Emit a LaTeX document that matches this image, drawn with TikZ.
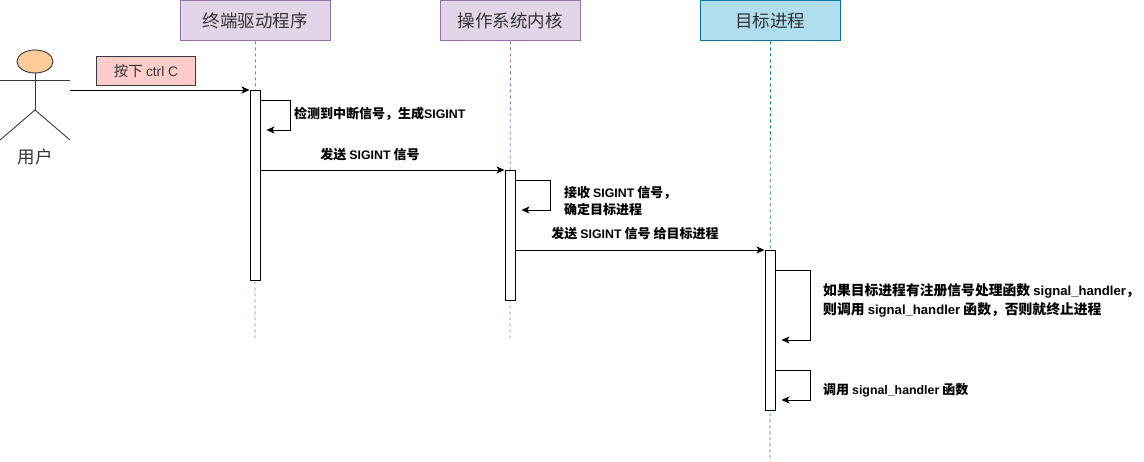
\documentclass[tikz,border=0pt]{standalone}
\usepackage{fontspec}
\setmainfont{Noto Sans CJK SC}
\newfontfamily\lat[Scale=0.95]{Liberation Sans}
\usetikzlibrary{arrows.meta,shapes.geometric}
\definecolor{purfill}{HTML}{E1D5E7}
\definecolor{purline}{HTML}{9673A6}
\definecolor{bluefill}{HTML}{B1DDF0}
\definecolor{blueline}{HTML}{10739E}
\definecolor{darkline}{HTML}{36393D}
\definecolor{headfill}{HTML}{FFCC99}
\definecolor{pinkfill}{HTML}{FFCCCC}
\definecolor{txt}{HTML}{333333}
\newcommand{\lt}[1]{{\lat #1}}
\tikzset{
  x=1pt,y=-1pt,
  header/.style={draw=#1,line width=0.9pt,minimum height=40pt,inner sep=0pt,font=\fontsize{17.5}{20}\selectfont,text=txt},
  lifeline/.style={draw=#1,dashed,dash pattern=on 3pt off 3pt,line width=0.8pt},
  actbox/.style={draw=black,fill=white,line width=0.9pt},
  msg/.style={draw=black,line width=0.9pt,-{Stealth[length=8pt,width=7pt,inset=2pt]}},
  lbl/.style={font=\bfseries\fontsize{13}{17}\selectfont,inner sep=0pt,align=left},
  biglbl/.style={font=\bfseries\fontsize{13.8}{19}\selectfont,inner sep=0pt,align=left},
}
\begin{document}
\begin{tikzpicture}
\useasboundingbox (0,0) rectangle (1144,462);
% headers
\node[header=purline,fill=purfill,minimum width=150pt,anchor=north west] (h1) at (180,0.5) {终端驱动程序};
\node[header=purline,fill=purfill,minimum width=140pt,anchor=north west] (h2) at (440,0.5) {操作系统内核};
\node[header=blueline,fill=bluefill,minimum width=140pt,anchor=north west] (h3) at (700,0.5) {目标进程};
% lifelines
\coordinate (e1) at (255,338);
\coordinate (e2) at (510,338);
\coordinate (e3) at (770,462);
\draw[lifeline=purline] (h1.south) -- (e1);
\draw[lifeline=purline] (h2.south) -- (e2);
\draw[lifeline=blueline] (h3.south) -- (e3);
% activation boxes
\node[actbox,minimum width=10pt,minimum height=190pt,inner sep=0pt,anchor=north] (a1) at (255,90) {};
\node[actbox,minimum width=10pt,minimum height=130pt,inner sep=0pt,anchor=north] (a2) at (510,170) {};
\node[actbox,minimum width=10pt,minimum height=160pt,inner sep=0pt,anchor=north] (a3) at (770,250) {};
% actor
\node[draw=darkline,fill=headfill,ellipse,line width=0.9pt,minimum width=36pt,minimum height=23pt,inner sep=0pt] (head) at (35,61.5) {};
\coordinate (hip) at (35,110);
\coordinate (armL) at (0,80);
\coordinate (armR) at (70,80);
\coordinate (legL) at (0,140);
\coordinate (legR) at (70,140);
\draw[draw=darkline,line width=0.9pt] (head.south) -- (hip);
\draw[draw=darkline,line width=0.9pt] (armL) -- (armR);
\draw[draw=darkline,line width=0.9pt] (legL) -- (hip) -- (legR);
\node[font=\fontsize{17.5}{20}\selectfont,text=txt] (user) at (35,157) {用户};
\coordinate (actR) at (70,90);
% message 1
\node[draw=darkline,fill=pinkfill,line width=0.9pt,minimum width=99pt,minimum height=29pt,inner sep=0pt,anchor=north west,font=\fontsize{14.5}{17}\selectfont,text=txt] (m0) at (96,56) {按下 \lt{ctrl C}};
\draw[msg] (actR) -- (a1.north west);
% self 1
\draw[msg] ([yshift=-10pt]a1.north east) -- ++(30,0) -- ++(0,30) -- ++(-24,0);
\node[lbl,anchor=west] (l1) at (294,114) {检测到中断信号，生成\lt{SIGINT}};
% message 2
\draw[msg] (a1.east |- a2.north) -- (a2.north west);
\node[lbl] (l2) at (370,155) {发送 \lt{SIGINT} 信号};
% self 2
\draw[msg] ([yshift=-10pt]a2.north east) -- ++(35,0) -- ++(0,30) -- ++(-29,0);
\node[lbl,anchor=west] (l3) at (564,201) {接收 \lt{SIGINT} 信号，\\确定目标进程};
% message 3
\draw[msg] (a2.east |- a3.north) -- (a3.north west);
\node[lbl] (l4) at (635,234) {发送 \lt{SIGINT} 信号 给目标进程};
% self 3
\draw[msg] ([yshift=-20pt]a3.north east) -- ++(35,0) -- ++(0,70) -- ++(-29,0);
\node[biglbl,anchor=west] (l5) at (823,300) {如果目标进程有注册信号处理函数 \lt{signal\_handler}，\\则调用 \lt{signal\_handler} 函数，否则就终止进程};
% self 4
\draw[msg] ([yshift=-120pt]a3.north east) -- ++(35,0) -- ++(0,30) -- ++(-29,0);
\node[lbl,anchor=west] (l6) at (823,390) {调用 \lt{signal\_handler} 函数};
\end{tikzpicture}
\end{document}
